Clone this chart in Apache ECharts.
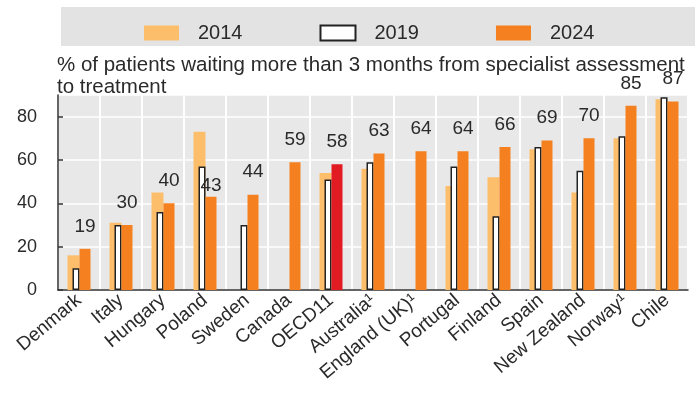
<!DOCTYPE html>
<html>
<head>
<meta charset="utf-8">
<script src="https://cdn.jsdelivr.net/npm/echarts@6/dist/echarts.min.js"></script>
<style>
  html, body { margin: 0; padding: 0; background: #fff; }
  #chart { width: 695px; height: 394px; }
</style>
</head>
<body>
<div id="chart"></div>
<script>
var categories = ['Denmark', 'Italy', 'Hungary', 'Poland', 'Sweden', 'Canada', 'OECD11', 'Australia\u00b9',
    'England (UK)\u00b9', 'Portugal', 'Finland', 'Spain', 'New Zealand', 'Norway\u00b9', 'Chile'];
var v2014 = [16, 31, 45, 73, '-', '-', 54, 56, '-', 48, 52, 65, 45, 70, 88];
var v2019 = [10, 30, 36, 57, 30, '-', 51, 59, '-', 57, 34, 66, 55, 71, 89];
var v2024 = [19, 30, 40, 43, 44, 59, 58, 63, 64, 64, 66, 69, 70, 85, 87];
var yTicks = [0, 20, 40, 60, 80];

var FONT = "'Liberation Sans', Arial, sans-serif";
var ORANGE = '#f4801f';
var LIGHT = '#fdbe6c';
var RED = '#e11b22';
var TEXT = '#2a2a2a';

var chart = echarts.init(document.getElementById('chart'));

var data2024 = v2024.map(function (v, i) {
    var item = { value: v };
    if (categories[i] === 'OECD11') item.itemStyle = { color: RED };
    if (categories[i] === 'Poland') item.label = { distance: 2 };
    return item;
});

var option = {
    backgroundColor: '#fff',
    textStyle: { fontFamily: FONT },
    graphic: [{
        type: 'rect',
        left: 61, top: 7,
        shape: { width: 634, height: 39 },
        style: { fill: '#e3e3e3' },
        z: -1
    }],
    title: {
        text: '% of patients waiting more than 3 months from specialist assessment\nto treatment',
        left: 52, top: 49,
        textStyle: { fontFamily: FONT, fontSize: 20.5, fontWeight: 'normal', color: TEXT, lineHeight: 22 }
    },
    legend: {
        data: ['2014', '2019', '2024'],
        left: 139, top: 18,
        icon: 'rect',
        itemWidth: 35, itemHeight: 15,
        itemGap: 77,
        textStyle: { fontFamily: FONT, fontSize: 20, color: TEXT, padding: [0, 0, 0, 14] }
    },
    grid: {
        left: 58, right: 7, top: 95, bottom: 104,
        show: true, backgroundColor: '#e8e8e8', borderWidth: 0
    },
    xAxis: [{
        type: 'category',
        data: categories,
        axisLine: { lineStyle: { color: '#333', width: 1.5 } },
        axisTick: { inside: true, length: 5, lineStyle: { color: '#333', width: 1.5 } },
        splitLine: { show: true, interval: 0, lineStyle: { color: '#fff', width: 2 } },
        axisLabel: { interval: 0, rotate: 40, fontSize: 19, color: TEXT, margin: 8, fontFamily: FONT }
    }, {
        type: 'category',
        data: categories,
        show: false
    }],
    yAxis: {
        type: 'value',
        min: 0, max: 90, interval: 20,
        axisLine: { show: true, lineStyle: { color: '#333', width: 1.5 } },
        axisTick: { show: true, inside: true, length: 5, lineStyle: { color: '#333', width: 1.5 } },
        splitLine: { lineStyle: { color: '#fff', width: 1.5 } },
        axisLabel: {
            fontSize: 18, color: TEXT, margin: 21, fontFamily: FONT, showMaxLabel: false,
            formatter: function (v) { return yTicks.indexOf(v) >= 0 ? v : ''; }
        }
    },
    series: [{
        name: '2014', type: 'bar', xAxisIndex: 0,
        barWidth: 12, barGap: 0,
        itemStyle: { color: LIGHT },
        data: v2014
    }, {
        name: '2019', type: 'bar', xAxisIndex: 1,
        barWidth: 7, barGap: 0,
        itemStyle: { color: '#fff', borderColor: '#222', borderWidth: 1.5 },
        data: v2019
    }, {
        name: 'spacer', type: 'bar', xAxisIndex: 1,
        barWidth: 6, barGap: 0, silent: true,
        data: []
    }, {
        name: '2024', type: 'bar', xAxisIndex: 0,
        barWidth: 11, barGap: 0,
        itemStyle: { color: ORANGE },
        label: { show: true, position: 'top', distance: 13, fontSize: 19, color: TEXT, fontFamily: FONT },
        data: data2024
    }]
};

chart.setOption(option);
</script>
</body>
</html>
